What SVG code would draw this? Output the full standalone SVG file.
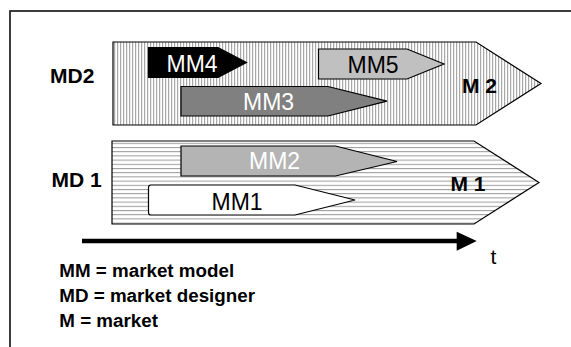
<svg xmlns="http://www.w3.org/2000/svg" width="571" height="347" viewBox="0 0 571 347">
  <defs>
    <pattern id="vhatch" patternUnits="userSpaceOnUse" width="3" height="10">
      <rect width="3" height="10" fill="#ffffff"/>
      <rect x="0" width="1.2" height="10" fill="#a8a8a8"/>
    </pattern>
    <pattern id="hhatch" patternUnits="userSpaceOnUse" width="10" height="4.2">
      <rect width="10" height="4.2" fill="#ffffff"/>
      <rect y="0" width="10" height="1" fill="#9a9a9a"/>
    </pattern>
  </defs>
  <style>
    .frame { fill: #ffffff; stroke: #1a1a1a; stroke-width: 1.7; }
    .shape { stroke: #000000; stroke-width: 1.2; stroke-linejoin: miter; }
    .bold { font-family: "Liberation Sans", Arial, sans-serif; font-weight: bold; font-size: 21px; fill: #000000; }
    .mm { font-family: "Liberation Sans", Arial, sans-serif; font-size: 23px; }
    .legend { font-family: "Liberation Sans", Arial, sans-serif; font-weight: bold; font-size: 18.8px; fill: #000000; }
  </style>

  <rect class="frame" x="10" y="11" width="570" height="350"/>

  <!-- market 2 with its market models -->
  <g id="market2">
    <path class="shape" fill="url(#vhatch)" d="M113,42 H476 L541,83.5 L476,125 H113 Z"/>
    <text class="bold" x="462" y="92.5">M 2</text>
  </g>
  <g id="mm4">
    <path class="shape" fill="#000000" d="M148.5,47.5 H218 L246.5,62.5 L218,77.5 H148.5 Z"/>
    <text class="mm" x="166.5" y="71.5" fill="#ffffff">MM4</text>
  </g>
  <g id="mm5">
    <path class="shape" fill="#c0c0c0" d="M318.5,49 H407 L444,64 L407,79 H318.5 Z"/>
    <text class="mm" x="347.5" y="73" fill="#000000">MM5</text>
  </g>
  <g id="mm3">
    <path class="shape" fill="#808080" d="M181,86.5 H328 L387,101.2 L328,116 H181 Z"/>
    <text class="mm" x="243" y="110" fill="#ffffff">MM3</text>
  </g>

  <!-- market 1 with its market models -->
  <g id="market1">
    <path class="shape" fill="url(#hhatch)" d="M112,141 H474 L539,182.5 L474,224 H112 Z"/>
    <text class="bold" x="450.5" y="191">M 1</text>
  </g>
  <g id="mm2">
    <path class="shape" fill="#b4b4b4" d="M181,146 H335.5 L397,161.5 L335.5,176 H181 Z"/>
    <text class="mm" x="249" y="169" fill="#ffffff">MM2</text>
  </g>
  <g id="mm1">
    <path class="shape" fill="#ffffff" d="M151,185 H295 L355,200 L295,215 H151 Q148.5,215 148.5,212.5 V187.5 Q148.5,185 151,185 Z"/>
    <text class="mm" x="211.5" y="210" fill="#000000">MM1</text>
  </g>

  <!-- designer labels -->
  <g id="md2"><text class="bold" x="50" y="83">MD2</text></g>
  <g id="md1"><text class="bold" x="51.5" y="187">MD 1</text></g>

  <!-- time axis -->
  <g id="connectors">
    <line x1="82" y1="241" x2="458" y2="241" stroke="#000000" stroke-width="4.3"/>
    <polygon points="456.7,231.7 476.7,241 456.7,250.7" fill="#000000"/>
  </g>
  <g id="time"><text x="490.5" y="264" font-family="'Liberation Sans', Arial, sans-serif" font-size="21" fill="#000000">t</text></g>

  <!-- legend -->
  <g id="legend">
    <text class="legend" x="59.3" y="276.7">MM = market model</text>
    <text class="legend" x="59.3" y="302.3">MD = market designer</text>
    <text class="legend" x="59.3" y="326.7">M = market</text>
  </g>
</svg>
